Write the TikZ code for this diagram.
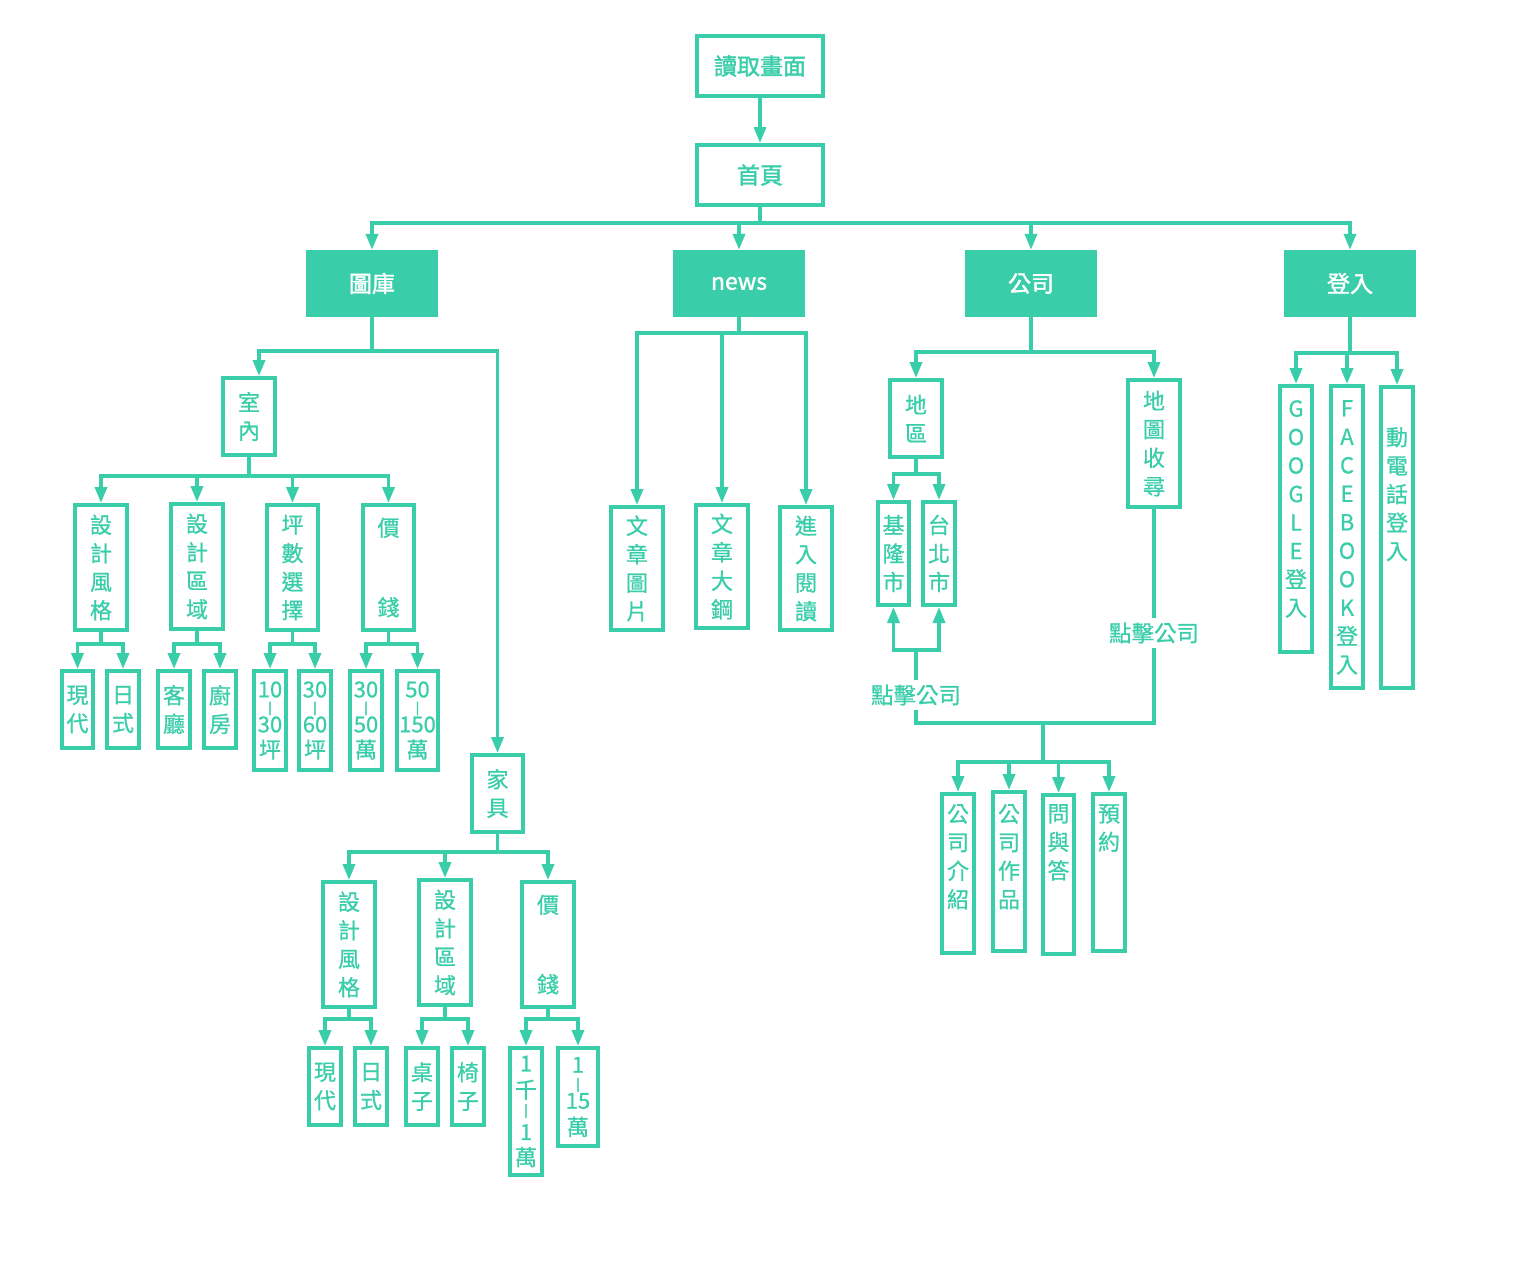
\documentclass[tikz,border=0pt]{standalone}
\usepackage{fontspec}
\setmainfont{Noto Sans CJK TC}[FakeBold=0.8]
\newfontfamily\heavyfont[FakeBold=1.6]{Noto Sans CJK TC}
\newfontfamily\barfont[FakeBold=3]{Noto Sans CJK TC}
\usetikzlibrary{arrows.meta}
\definecolor{tealc}{RGB}{58,205,170}
\newcommand\vfont{\fontsize{22}{28.5}\selectfont}
\newcommand\hfont{\heavyfont\fontsize{23}{28}\selectfont}
\newcommand\lfont{\fontsize{22.5}{28}\selectfont}
\newcommand\sepbar{{\barfont\fontsize{12}{12}\selectfont|}}
\newcommand\twokids[4]{%
  \coordinate (#1-b) at (#1.south |- 0,#4);
  \draw[conn] (#1.south) -- (#1-b);
  \draw[arr] (#1-b) -| (#2.north);
  \draw[arr] (#1-b) -| (#3.north);}
\begin{document}
\begin{tikzpicture}[x=1pt,y=-1pt,
  sz/.style 2 args={minimum width=#1pt,minimum height=#2pt},
  ob/.style={draw=tealc,line width=4pt,inner sep=0pt,text=tealc,font=\hfont},
  fb/.style={fill=tealc,inner sep=0pt,text=white,font=\hfont},
  vb/.style={draw=tealc,line width=4pt,inner sep=0pt,align=center,text=tealc,font=\vfont},
  vtxt/.style={inner sep=0pt,align=center,text=tealc,font=\vfont,anchor=north},
  lbl/.style={inner sep=4pt,text=tealc,font=\lfont},
  conn/.style={draw=tealc,line width=3.5pt},
  arr/.style={conn,-{Triangle[width=12pt,length=16pt]}}]
\useasboundingbox (0,0) rectangle (1513,1261);

% top
\node[ob,sz={126}{60}] (read) at (760,66) {讀取畫面};
\node[ob,sz={126}{60}] (home) at (760,175) {首頁};
\node[fb,sz={132}{67}] (gal) at (372,283.5) {圖庫};
\node[fb,sz={132}{67}] (news) at (739,283.5) {news};
\node[fb,sz={132}{67}] (comp) at (1031,283.5) {公司};
\node[fb,sz={132}{67}] (login) at (1350,283.5) {登入};

% gallery
\node[vb,sz={52}{77}] (indoor) at (249,416.5) {室\\內};
\node[vb,sz={52}{125}] (s1) at (101,567.5) {設\\計\\風\\格};
\node[vb,sz={52}{125}] (s2) at (197,566.5) {設\\計\\區\\域};
\node[vb,sz={51}{125}] (s3) at (292.5,567.5) {坪\\數\\選\\擇};
\node[vb,sz={51}{125}] (s4) at (388.5,567.5) {價\\ \\[-3pt] \\[-3pt]錢};
\node[vb,sz={31}{77}] (s1a) at (77.5,709.5) {現\\代};
\node[vb,sz={32}{77}] (s1b) at (123,709.5) {日\\式};
\node[vb,sz={32}{77}] (s2a) at (174,709.5) {客\\廳};
\node[vb,sz={32}{77}] (s2b) at (220,709.5) {廚\\房};
\node[vb,sz={32}{99}] (s3a) at (270,720.5) {10\\[-14pt]\sepbar\\[-8pt]30\\[-3pt]坪};
\node[vb,sz={32}{99}] (s3b) at (315,720.5) {30\\[-14pt]\sepbar\\[-8pt]60\\[-3pt]坪};
\node[vb,sz={32}{99}] (s4a) at (366,720.5) {30\\[-14pt]\sepbar\\[-8pt]50\\[-3pt]萬};
\node[vb,sz={41}{99}] (s4b) at (417.5,720.5) {50\\[-14pt]\sepbar\\[-8pt]150\\[-3pt]萬};

\node[vb,sz={51}{77}] (furn) at (497.5,793.5) {家\\具};
\node[vb,sz={52}{125}] (j1) at (349,944.5) {設\\計\\風\\格};
\node[vb,sz={52}{125}] (j2) at (445,942.5) {設\\計\\區\\域};
\node[vb,sz={52}{125}] (j3) at (548,944.5) {價\\ \\[-3pt] \\[-3pt]錢};
\node[vb,sz={32}{77}] (j1a) at (325,1086.5) {現\\代};
\node[vb,sz={32}{77}] (j1b) at (371,1086.5) {日\\式};
\node[vb,sz={32}{77}] (j2a) at (422,1086.5) {桌\\子};
\node[vb,sz={32}{77}] (j2b) at (468,1086.5) {椅\\子};
\node[vb,sz={32}{127}] (j3a) at (526,1111.5) {1\\[-2pt]千\\[-12pt]\sepbar\\[-3pt]1\\[-3pt]萬};
\node[vb,sz={40}{98}] (j3b) at (578,1097) {1\\[-13pt]\sepbar\\[-8pt]15\\[-2pt]萬};

% news
\node[vb,sz={52}{123}] (na) at (637,568.5) {文\\章\\圖\\片};
\node[vb,sz={52}{123}] (nb) at (722,566.5) {文\\章\\大\\鋼};
\node[vb,sz={52}{123}] (nc) at (806,568.5) {進\\入\\閱\\讀};

% company
\node[vb,sz={52}{77}] (area) at (916,418.5) {地\\區};
\node[vb,sz={52}{127}] (map) at (1154,443.5) {地\\圖\\收\\尋};
\node[vb,sz={31}{103}] (kl) at (893.5,553.5) {基\\隆\\市};
\node[vb,sz={32}{103}] (tp) at (939,553.5) {台\\北\\市};
\node[lbl] (L1) at (916,695) {點擊公司};
\node[lbl] (L2) at (1154,633) {點擊公司};
\node[vb,sz={32}{159}] (ci) at (958,873.5) {};
\node[vtxt] (ci-t) at (958,804) {公\\司\\介\\紹};
\node[vb,sz={32}{159}] (cw) at (1009,871.5) {};
\node[vtxt] (cw-t) at (1009,804) {公\\司\\作\\品};
\node[vb,sz={31}{159}] (qa) at (1058.5,874.5) {};
\node[vtxt] (qa-t) at (1058.5,804) {問\\與\\答};
\node[vb,sz={32}{157}] (rs) at (1109,872.5) {};
\node[vtxt] (rs-t) at (1109,804) {預\\約};

% login
\node[vb,sz={32}{266}] (lg1) at (1296,519) {};
\node[vtxt] (lg1-t) at (1296,400) {G\\O\\O\\G\\L\\E\\登\\入};
\node[vb,sz={32}{302}] (lg2) at (1347,537) {};
\node[vtxt] (lg2-t) at (1347,400) {F\\A\\C\\E\\B\\O\\O\\K\\登\\入};
\node[vb,sz={32}{301}] (lg3) at (1397,537.5) {};
\node[vtxt] (lg3-t) at (1397,427) {動\\電\\話\\登\\入};

% connectors
\draw[arr] (read) -- (home);
\coordinate (b0) at (760,223);
\draw[conn] (home.south) -- (b0);
\foreach \n in {gal,news,comp,login} {\draw[arr] (b0) -| (\n.north);}

\coordinate (b1) at (gal.south |- 0,351);
\draw[conn] (gal.south) -- (b1);
\draw[arr] (b1) -| ([xshift=10pt]indoor.north);
\draw[arr] (b1) -| (furn.north);

\coordinate (b2) at (249,476);
\draw[conn] (indoor.south) -- (b2);
\foreach \n in {s1,s2,s3,s4} {\draw[arr] (b2) -| (\n.north);}
\twokids{s1}{s1a}{s1b}{644}
\twokids{s2}{s2a}{s2b}{644}
\twokids{s3}{s3a}{s3b}{644}
\twokids{s4}{s4a}{s4b}{644}

\coordinate (b6) at (497.5,852);
\draw[conn] (furn.south) -- (b6);
\foreach \n in {j1,j2,j3} {\draw[arr] (b6) -| (\n.north);}
\twokids{j1}{j1a}{j1b}{1019}
\twokids{j2}{j2a}{j2b}{1019}
\twokids{j3}{j3a}{j3b}{1019}

\coordinate (b3) at (739,333);
\draw[conn] (news.south) -- (b3);
\foreach \n in {na,nb,nc} {\draw[arr] (b3) -| (\n.north);}

\coordinate (b4) at (1031,352);
\draw[conn] (comp.south) -- (b4);
\draw[arr] (b4) -| (area.north);
\draw[arr] (b4) -| (map.north);
\twokids{area}{kl}{tp}{474}

\coordinate (m1) at (916,650);
\draw[conn] (L1.north) -- (m1);
\draw[arr] (m1) -| (kl.south);
\draw[arr] (m1) -| (tp.south);
\coordinate (m2) at (916,723);
\coordinate (m3) at (1154,723);
\draw[conn] (L1.south) -- (m2) -- (m3) -- (L2.south);
\draw[conn] (map.south) -- (L2.north);
\coordinate (m4) at (1043,723);
\coordinate (m5) at (1043,762);
\draw[conn] (m4) -- (m5);
\foreach \n in {ci,cw,qa,rs} {\draw[arr] (m5) -| (\n.north);}

\coordinate (b5) at (1350,353);
\draw[conn] (login.south) -- (b5);
\foreach \n in {lg1,lg2,lg3} {\draw[arr] (b5) -| (\n.north);}
\end{tikzpicture}
\end{document}
